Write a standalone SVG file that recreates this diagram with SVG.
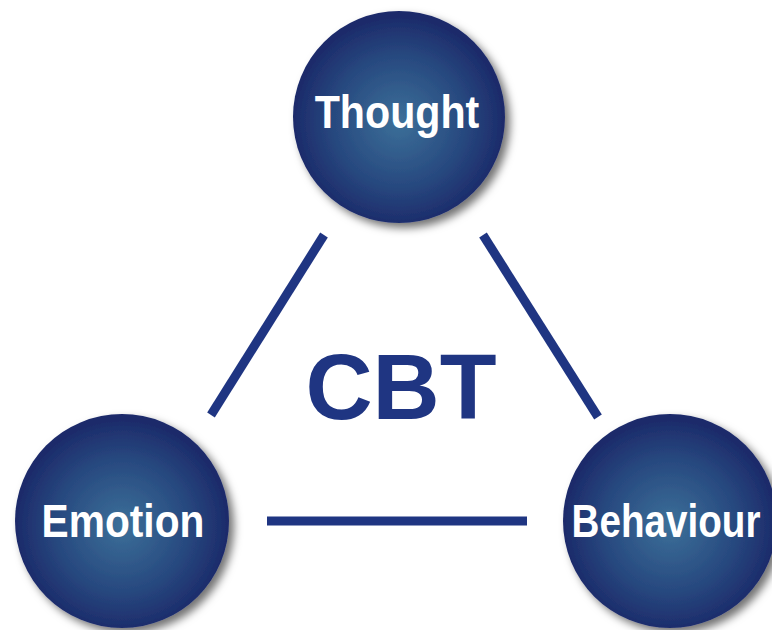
<svg xmlns="http://www.w3.org/2000/svg" width="772" height="630" viewBox="0 0 772 630">
<style>
.ball{fill:url(#g);filter:url(#sh)}
.lbl{font-family:"Liberation Sans",Arial,sans-serif;font-weight:bold;font-size:46px;fill:#ffffff;text-anchor:middle}
.conn{stroke:#1f3582;stroke-width:9;fill:none}
.title{font-family:"Liberation Sans",Arial,sans-serif;font-weight:bold;font-size:93px;fill:#1f3582;text-anchor:middle}
</style>
<defs>
<radialGradient id="g" cx="0.5" cy="0.52" r="0.5">
<stop offset="0" stop-color="#3c7099"/>
<stop offset="0.6" stop-color="#284a80"/>
<stop offset="1" stop-color="#1c2a6a"/>
</radialGradient>
<filter id="sh" x="-20%" y="-20%" width="140%" height="140%">
<feGaussianBlur in="SourceAlpha" stdDeviation="4"/>
<feOffset dx="5" dy="5" result="b"/>
<feFlood flood-color="#000" flood-opacity="0.55"/>
<feComposite in2="b" operator="in"/>
<feMerge><feMergeNode/><feMergeNode in="SourceGraphic"/></feMerge>
</filter>
</defs>
<rect width="772" height="630" fill="#ffffff"/>
<g id="connectors">
<line class="conn" x1="324" y1="235" x2="211" y2="415"/>
<line class="conn" x1="483" y1="235" x2="598" y2="417"/>
<line class="conn" x1="267" y1="521" x2="527" y2="521"/>
</g>
<g id="cbt"><text class="title" x="401" y="419">CBT</text></g>
<g id="thought">
<circle class="ball" cx="399" cy="117" r="106"/>
<text class="lbl" transform="translate(397,128) scale(0.895,1)">Thought</text>
</g>
<g id="emotion">
<circle class="ball" cx="122" cy="521" r="107"/>
<text class="lbl" transform="translate(123,537) scale(0.885,1)">Emotion</text>
</g>
<g id="behaviour">
<circle class="ball" cx="670" cy="521" r="107"/>
<text class="lbl" transform="translate(666,537) scale(0.84,1)">Behaviour</text>
</g>
</svg>
